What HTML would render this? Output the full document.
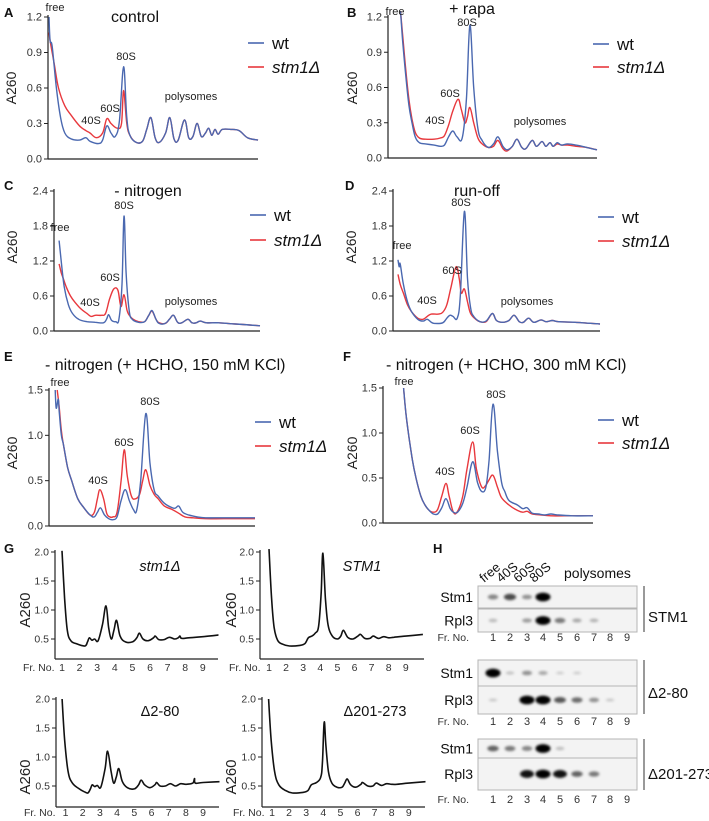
<!DOCTYPE html>
<html><head><meta charset="utf-8">
<style>
html,body{margin:0;padding:0;background:#fff;}
svg{display:block;font-family:"Liberation Sans",Arial,sans-serif;}
.pl{font-size:13px;font-weight:bold;fill:#111}
.tk{font-size:11px;fill:#333}
.gtk{font-size:10.5px;fill:#333}
.ann{font-size:11px;fill:#222}
.ttl{font-size:16px;fill:#111}
.lg{font-size:17px;fill:#111}
</style></head><body>
<svg id="fig" width="709" height="821" viewBox="0 0 709 821" xmlns="http://www.w3.org/2000/svg">
<defs><filter id="blur" x="-50%" y="-50%" width="200%" height="200%"><feGaussianBlur stdDeviation="1.3"/></filter></defs>
<text class="pl" x="4" y="17">A</text>
<text class="pl" x="347" y="17">B</text>
<text class="pl" x="4" y="190">C</text>
<text class="pl" x="345" y="190">D</text>
<text class="pl" x="4" y="361">E</text>
<text class="pl" x="343" y="361">F</text>
<text class="pl" x="4" y="553">G</text>
<text class="pl" x="433" y="553">H</text>
<text class="ttl" x="135" y="22" text-anchor="middle">control</text>
<text class="ttl" x="472" y="14" text-anchor="middle" font-size="17">+ rapa</text>
<text class="ttl" x="148" y="196" text-anchor="middle">- nitrogen</text>
<text class="ttl" x="477" y="196" text-anchor="middle">run-off</text>
<text class="ttl" x="45" y="370" font-size="15">- nitrogen (+ HCHO, 150 mM KCl)</text>
<text class="ttl" x="386" y="370" font-size="15">- nitrogen (+ HCHO, 300 mM KCl)</text>
<g id="plots"></g>
<g id="blots"></g>
</svg>
<script>
const ticksA=[0,0.3,0.6,0.9,1.2];
const ticksC=[0,0.6,1.2,1.8,2.4];
const ticksE=[0,0.5,1.0,1.5];
const ticksG=[0.5,1.0,1.5,2.0];
const frNumbers=[1,2,3,4,5,6,7,8,9];
const aWt=[[0.5,1.2],[1,1.0],[2,0.95],[4,0.6],[6,0.35],[8,0.22],[11,0.17],[15,0.16],[18,0.18],[20,0.15],[24,0.13],[26,0.16],[28,0.28],[30,0.22],[32,0.19],[34,0.32],[36,0.78],[37.5,0.35],[39,0.2],[42,0.14],[45,0.15],[47,0.25],[49,0.35],[51,0.18],[53,0.14],[56,0.22],[58,0.35],[60,0.17],[62,0.16],[65,0.33],[67,0.18],[69,0.19],[71,0.3],[73,0.19],[75,0.22],[76.5,0.26],[78,0.2],[79.5,0.25],[81,0.21],[83,0.25],[87,0.25],[91,0.24],[95,0.18],[100,0.16]];
const aSt=[[0.5,1.07],[1,1.0],[3,0.8],[5,0.6],[8,0.45],[11,0.37],[15,0.28],[18,0.24],[20,0.22],[23,0.18],[26,0.22],[28,0.34],[30,0.3],[33,0.26],[35,0.3],[36,0.58],[37.5,0.3],[39,0.2],[42,0.14],[45,0.15],[47,0.25],[49,0.35],[51,0.18],[53,0.14],[56,0.22],[58,0.35],[60,0.17],[62,0.16],[65,0.33],[67,0.18],[69,0.19],[71,0.3],[73,0.19],[75,0.22],[76.5,0.26],[78,0.2],[79.5,0.25],[81,0.21],[83,0.25],[87,0.25],[91,0.24],[95,0.18],[100,0.16]];
const bWt=[[6,1.25],[7,1.0],[8.5,0.7],[10,0.45],[11.5,0.3],[13,0.18],[15,0.13],[18,0.12],[22,0.11],[25,0.1],[27,0.11],[29,0.18],[31,0.23],[33,0.18],[35.5,0.17],[37.5,0.5],[39.2,1.13],[41,0.6],[43,0.25],[45,0.15],[48,0.09],[50.5,0.12],[52.6,0.18],[55,0.1],[57,0.07],[59.5,0.1],[61.7,0.16],[64,0.09],[66,0.08],[69,0.15],[71,0.1],[73.7,0.14],[75.5,0.1],[77.5,0.13],[79,0.1],[81,0.13],[83,0.11],[86,0.12],[90,0.11],[95,0.09],[100,0.07]];
const bSt=[[6,1.25],[7,1.05],[8.5,0.75],[10,0.5],[11.5,0.33],[13,0.22],[15,0.17],[18,0.16],[22,0.16],[25,0.17],[27,0.19],[29,0.28],[31,0.4],[33.5,0.5],[35,0.42],[36.8,0.3],[38,0.35],[39.2,0.43],[41,0.3],[43,0.17],[45,0.12],[48,0.09],[50.5,0.1],[52.6,0.15],[55,0.08],[57,0.06],[59.5,0.1],[61.7,0.16],[64,0.09],[66,0.08],[69,0.15],[71,0.1],[73.7,0.14],[75.5,0.1],[77.5,0.13],[79,0.1],[81,0.12],[83,0.11],[86,0.11],[90,0.1],[95,0.09],[100,0.07]];
const cWt=[[2.5,1.55],[3.5,1.2],[5,0.75],[7,0.45],[9,0.3],[12,0.2],[16,0.16],[20,0.15],[24,0.14],[25.5,0.2],[26.5,0.28],[28,0.18],[30,0.16],[31.5,0.2],[33,0.8],[34,1.97],[35,1.0],[36.5,0.35],[38,0.2],[41,0.15],[44,0.16],[46,0.27],[47.6,0.35],[49.5,0.2],[51,0.13],[54,0.13],[56,0.2],[58,0.27],[60,0.15],[62,0.14],[65,0.2],[67,0.14],[69,0.14],[71,0.17],[74,0.14],[80,0.14],[88,0.12],[100,0.09]];
const cSt=[[2.5,1.15],[3.5,1.0],[4.5,0.9],[6,0.75],[8,0.6],[10,0.5],[13,0.38],[16,0.3],[18,0.25],[20,0.27],[23,0.27],[25,0.3],[27,0.55],[29,0.72],[31,0.7],[32.5,0.42],[34,0.62],[35.5,0.35],[37,0.25],[38.5,0.2],[41,0.16],[44,0.16],[46,0.27],[47.6,0.34],[49.5,0.2],[51,0.14],[54,0.13],[56,0.2],[58,0.27],[60,0.15],[62,0.14],[65,0.2],[67,0.14],[69,0.14],[71,0.17],[74,0.14],[80,0.14],[88,0.12],[100,0.09]];
const dWt=[[2.4,1.22],[3,1.1],[3.5,1.15],[5,0.8],[7,0.5],[9,0.33],[12,0.2],[14.5,0.17],[16.5,0.2],[18.5,0.15],[20,0.13],[24,0.14],[26,0.22],[27.5,0.27],[29,0.25],[31,0.22],[32.5,0.6],[34.5,2.05],[36,0.9],[37.5,0.4],[39,0.25],[42,0.16],[45,0.17],[48,0.3],[50,0.18],[53,0.15],[56,0.18],[58.5,0.27],[61,0.16],[63,0.15],[65.5,0.22],[68,0.15],[71.5,0.19],[74,0.16],[77,0.18],[80,0.16],[88,0.15],[100,0.12]];
const dSt=[[2.4,0.97],[3.5,0.8],[5,0.65],[7,0.45],[9,0.33],[12,0.22],[14.5,0.2],[16.5,0.25],[18.5,0.29],[22,0.29],[24,0.32],[26,0.45],[28,0.75],[30.5,1.1],[32,0.9],[33,0.65],[34.5,0.72],[36,0.5],[37.5,0.3],[40,0.2],[42,0.16],[45,0.16],[48,0.3],[50,0.18],[53,0.15],[56,0.18],[58.5,0.27],[61,0.16],[63,0.15],[65.5,0.22],[68,0.15],[71.5,0.19],[74,0.16],[77,0.18],[80,0.16],[88,0.15],[100,0.12]];
const eWt=[[3,1.5],[3.5,1.3],[4.5,1.4],[5,1.25],[6,1.0],[7,0.9],[9,0.65],[11,0.5],[14,0.3],[17,0.2],[20,0.12],[22,0.1],[23.5,0.15],[25,0.2],[27,0.12],[29,0.08],[31,0.07],[33,0.1],[35,0.28],[37,0.4],[39,0.28],[41,0.18],[42.5,0.17],[44.5,0.5],[47,1.24],[49,0.7],[51,0.4],[53,0.33],[56,0.25],[60,0.2],[61.5,0.2],[63,0.22],[65,0.15],[68,0.12],[72,0.1],[76,0.09],[85,0.09],[100,0.09]];
const eSt=[[4,1.5],[5,1.3],[6,1.05],[7,0.9],[9,0.65],[11,0.5],[14,0.3],[17,0.2],[20,0.12],[22,0.15],[23.5,0.3],[24.7,0.4],[26.5,0.3],[28,0.14],[29.5,0.1],[31,0.1],[33,0.15],[35,0.5],[36.5,0.84],[38,0.55],[40,0.33],[42,0.3],[44,0.35],[45.5,0.5],[47,0.62],[49,0.45],[51,0.35],[53,0.3],[56,0.22],[60,0.18],[63,0.14],[66,0.1],[70,0.09],[76,0.08],[85,0.08],[100,0.08]];
const fWt=[[9.8,1.5],[11,1.2],[12.4,0.95],[14,0.7],[15.7,0.5],[18,0.3],[20,0.2],[22,0.14],[24,0.1],[26,0.1],[28,0.17],[30,0.27],[32,0.16],[33.5,0.12],[35.5,0.12],[38,0.22],[40,0.4],[42.7,0.68],[45,0.45],[47,0.35],[49,0.4],[50.5,0.7],[52.4,1.32],[54.5,0.8],[56.5,0.45],[58,0.35],[60,0.25],[64,0.2],[66.5,0.16],[68.6,0.17],[71,0.11],[74,0.1],[77,0.09],[80,0.1],[83,0.09],[90,0.08],[100,0.08]];
const fSt=[[9.8,1.5],[11,1.2],[12.4,0.95],[14,0.7],[15.7,0.5],[18,0.3],[20,0.2],[22,0.14],[24,0.12],[26,0.15],[28,0.3],[30,0.44],[31.5,0.3],[33.5,0.12],[35.5,0.13],[38,0.3],[40,0.6],[42.7,0.9],[44.5,0.6],[47,0.4],[49,0.42],[50.5,0.48],[52.4,0.53],[54.5,0.4],[56.5,0.28],[60,0.2],[64,0.14],[66.5,0.12],[68.6,0.13],[71,0.1],[75,0.09],[80,0.08],[90,0.08],[100,0.08]];
const gStm1Del=[[1,2.02],[1.15,1.2],[1.3,0.65],[1.5,0.47],[1.8,0.42],[2.3,0.38],[2.45,0.45],[2.55,0.52],[2.7,0.48],[2.85,0.5],[3.05,0.47],[3.3,0.75],[3.5,1.07],[3.65,0.7],[3.8,0.5],[3.95,0.65],[4.1,0.82],[4.3,0.55],[4.6,0.45],[5.0,0.45],[5.25,0.52],[5.4,0.6],[5.6,0.5],[5.9,0.47],[6.2,0.52],[6.3,0.55],[6.5,0.49],[6.8,0.49],[7.1,0.53],[7.4,0.5],[7.6,0.52],[7.7,0.55],[7.8,0.51],[8.2,0.52],[9,0.54],[10.2,0.58]];
const gStm1=[[1,2.05],[1.15,1.2],[1.3,0.7],[1.5,0.48],[1.8,0.41],[2.2,0.38],[2.8,0.39],[3.1,0.42],[3.3,0.52],[3.5,0.55],[3.7,0.6],[3.9,0.72],[4.05,1.3],[4.15,1.98],[4.3,1.2],[4.45,0.75],[4.7,0.55],[5.0,0.5],[5.2,0.55],[5.35,0.65],[5.6,0.53],[5.9,0.5],[6.2,0.55],[6.35,0.58],[6.6,0.51],[6.9,0.51],[7.1,0.55],[7.4,0.51],[7.7,0.54],[8,0.52],[8.3,0.53],[9,0.55],[10,0.58]];
const gDel280=[[0.8,2.0],[0.95,1.3],[1.15,0.75],[1.4,0.55],[1.8,0.45],[2.1,0.4],[2.3,0.38],[2.45,0.45],[2.55,0.52],[2.7,0.49],[2.85,0.51],[3.05,0.48],[3.3,0.8],[3.45,1.1],[3.65,0.75],[3.8,0.55],[3.95,0.65],[4.1,0.8],[4.3,0.58],[4.6,0.47],[5.0,0.45],[5.25,0.52],[5.4,0.6],[5.6,0.52],[5.9,0.47],[6.2,0.52],[6.3,0.56],[6.5,0.5],[6.8,0.5],[7.1,0.54],[7.4,0.5],[7.7,0.54],[8.0,0.53],[8.4,0.55],[8.5,0.63],[8.55,0.55],[9,0.56],[10.3,0.58]];
const gDel201=[[0.8,2.0],[0.95,1.3],[1.15,0.75],[1.4,0.52],[1.8,0.42],[2.2,0.38],[2.8,0.39],[3.1,0.42],[3.3,0.52],[3.6,0.56],[3.85,0.65],[3.95,0.9],[4.05,1.6],[4.15,1.2],[4.3,0.75],[4.5,0.55],[4.8,0.48],[5.1,0.48],[5.25,0.55],[5.4,0.62],[5.6,0.52],[5.9,0.48],[6.2,0.53],[6.3,0.56],[6.6,0.5],[6.9,0.5],[7.1,0.55],[7.4,0.51],[7.7,0.54],[8,0.53],[8.3,0.53],[9,0.55],[10.2,0.58]];
const blotStm1_STM1=[0.35,0.6,0.3,1.0,0,0,0,0,0];
const blotRpl3_STM1=[0.12,0,0.25,1.0,0.4,0.2,0.15,0,0];
const blotStm1_D280=[1.0,0.08,0.3,0.2,0.03,0.03,0,0,0];
const blotRpl3_D280=[0.05,0,1.0,1.0,0.55,0.45,0.3,0.05,0];
const blotStm1_D201=[0.5,0.4,0.35,1.0,0.1,0,0,0,0];
const blotRpl3_D201=[0,0,0.85,1.0,0.85,0.5,0.4,0,0];

const NS="http://www.w3.org/2000/svg";
const plots=document.getElementById('plots');
function mk(tag,parent,attrs){const e=document.createElementNS(NS,tag);for(const k in attrs)e.setAttribute(k,attrs[k]);parent.appendChild(e);return e;}
function lin(d0,d1,r0,r1){return v=>r0+(v-d0)/(d1-d0)*(r1-r0);}
function smooth(pts){
  let d='M'+pts[0][0].toFixed(1)+','+pts[0][1].toFixed(1);
  for(let i=0;i<pts.length-1;i++){
    const p0=pts[Math.max(0,i-1)],p1=pts[i],p2=pts[i+1],p3=pts[Math.min(pts.length-1,i+2)];
    const t=0.18;
    const c1=[p1[0]+(p2[0]-p0[0])*t,p1[1]+(p2[1]-p0[1])*t];
    const c2=[p2[0]-(p3[0]-p1[0])*t,p2[1]-(p3[1]-p1[1])*t];
    d+='C'+c1.map(v=>v.toFixed(1)).join(',')+' '+c2.map(v=>v.toFixed(1)).join(',')+' '+p2[0].toFixed(1)+','+p2[1].toFixed(1);
  }
  return d;
}
let clipId=0;
function panel(cfg){
  const g=mk('g',plots,{});
  
  
  const sx=lin(cfg.d0,cfg.d1,cfg.x0,cfg.x1);
  const sy=lin(cfg.vmin,cfg.vmax,cfg.yb,cfg.yt);
  const ya=mk('line',g,{x1:cfg.x0,y1:cfg.axisTop,x2:cfg.x0,y2:cfg.axisY,stroke:'#222','stroke-width':1.2});
  
  
  const xa=mk('line',g,{x1:cfg.x0,y1:cfg.axisY,x2:cfg.xEnd,y2:cfg.axisY,stroke:'#222','stroke-width':1.2});
  
  
  cfg.ticks.forEach(t=>{
    const y=sy(t);
    const tl=mk('line',g,{x1:cfg.x0-4,y1:y,x2:cfg.x0,y2:y,stroke:'#222','stroke-width':1});
    
    
    const tx=mk('text',g,{x:cfg.x0-6,y:y+3.5,'text-anchor':'end',class:cfg.tickClass});
    tx.textContent=t.toFixed(1);
    
    
  });
  const yl=mk('text',g,{x:0,y:0,'text-anchor':'middle','font-size':cfg.ylSize,fill:'#222',transform:`translate(${cfg.ylX},${cfg.ylY}) rotate(-90)`});
  yl.textContent='A260';
  
  
  const cid='clip'+(clipId++);
  const cp=mk('clipPath',g,{id:cid});
  mk('rect',cp,{x:cfg.x0+0.5,y:cfg.clipTop,width:cfg.xEnd-cfg.x0,height:cfg.axisY-cfg.clipTop});
  cfg.series.forEach(s=>{
    const pts=s.data.map(p=>[sx(p[0]),sy(p[1])]);
    const pth=mk('path',g,{d:smooth(pts),fill:'none',stroke:s.color,'stroke-width':s.w||1.4,'clip-path':`url(#${cid})`,'stroke-linejoin':'round'});
    
    
  });
  (cfg.ann||[]).forEach(a=>{
    const t=mk('text',g,{x:a[1],y:a[2],'text-anchor':'middle',class:'ann','font-size':a[3]||11});
    t.textContent=a[0];
    
    
  });
  if(cfg.legend){
    const L=cfg.legend;
    [['wt','#4a68b0',L.y1,false],['stm1Δ','#e8383d',L.y2,true]].forEach(e=>{
      const ln=mk('line',g,{x1:L.x,y1:e[2],x2:L.x+16,y2:e[2],stroke:e[1],'stroke-width':1.6});
      
      
      const tx=mk('text',g,{x:L.x+24,y:e[2]+6,class:'lg'});
      if(e[3]){tx.setAttribute('font-style','italic');}
      tx.textContent=e[0];
      
      
    });
  }
  if(cfg.fr){
    const F=cfg.fr;
    const ft=mk('text',g,{x:F.labelX,y:F.y,class:'gtk','font-size':11});
    ft.textContent='Fr. No.';
    
    
    frNumbers.forEach(n=>{
      const t=mk('text',g,{x:sx(n),y:F.y,'text-anchor':'middle',class:'gtk','font-size':11.5});
      t.textContent=n;
      
      
    });
  }
  if(cfg.title){
    const t=mk('text',g,{x:cfg.title[1],y:cfg.title[2],'text-anchor':'middle','font-size':14.5,fill:'#111','font-style':cfg.title[3]?'italic':'normal'});
    t.textContent=cfg.title[0];
    
    
  }
}
const BLUE='#4a68b0',RED='#e8383d';
function abPanel(name,x0,x1,yt,yb,vmax,ticks,wt,st,ann,legend,ylX,ylY){
  panel({name,d0:0,d1:100,x0,x1,xEnd:x1,vmin:0,vmax,yb,yt,axisY:yb,axisTop:yt-2,clipTop:yt-14,ticks,tickClass:'tk',ylSize:14,ylX,ylY,
    series:[{data:st,color:RED,name:'stm1-line'},{data:wt,color:BLUE,name:'wt-line'}],ann,legend});
}
abPanel('panel-a-control',48,258,17,159,1.2,ticksA,aWt,aSt,[['free',55,11,10],['40S',91,124],['60S',110,112],['80S',126,60],['polysomes',191,100]],{x:248,y1:43,y2:67},16,88);
abPanel('panel-b-rapa',388,597,17,158,1.2,ticksA,bWt,bSt,[['free',395,15,10],['80S',467,26],['60S',450,97],['40S',435,124],['polysomes',540,125]],{x:593,y1:44,y2:67},357,88);
abPanel('panel-c-nitrogen',54,260,191,331,2.4,ticksC,cWt,cSt,[['free',60,231,10],['80S',124,209],['60S',110,281],['40S',90,306],['polysomes',191,305]],{x:250,y1:215,y2:240},17,247);
abPanel('panel-d-runoff',393,600,191,331,2.4,ticksC,dWt,dSt,[['free',402,249,10],['60S',452,274],['80S',461,206],['40S',427,304],['polysomes',527,305]],{x:598,y1:217,y2:241},356,247);
abPanel('panel-e-hcho150',49,255,390,526,1.5,ticksE,eWt,eSt,[['free',60,386,10],['80S',150,405],['60S',124,446],['40S',98,484]],{x:255,y1:422,y2:446},17,453);
abPanel('panel-f-hcho300',383,593,388,523,1.5,ticksE,fWt,fSt,[['free',404,385,10],['80S',496,398],['60S',470,434],['40S',445,475]],{x:598,y1:420,y2:443},357,453);
function gP(name,axX,xEnd,num1,sp,yt,yb,axisY,data,title,frY,frLabelX,ylX,ylY){
  const d0=1-(num1-axX)/sp;
  panel({name,d0:d0,d1:d0+(xEnd-axX)/sp,x0:axX,x1:xEnd,xEnd,vmin:0.5,vmax:2.0,yb,yt,axisY,axisTop:yt-2,clipTop:yt-8,ticks:ticksG,tickClass:'gtk',ylSize:15,ylX,ylY,
    series:[{data,color:'#111',name:'profile-line',w:1.6}],title,fr:{y:frY,labelX:frLabelX}});
}
gP('panel-g-stm1-deletion',55,218,62,17.6,552,639,659,gStm1Del,['stm1Δ',160,571,true],671,23,30,610);
gP('panel-g-stm1',260,424,269,17.1,552,639,659,gStm1,['STM1',362,571,true],671,229,236,610);
gP('panel-g-delta-2-80',56,219,65.5,17.2,699,786,807,gDel280,['Δ2-80',160,716,false],816,24,30,777);
gP('panel-g-delta-201-273',262,425,272,17.1,699,786,807,gDel201,['Δ201-273',375,716,false],816,233,236,777);

const blots=document.getElementById('blots');
const laneX=[493,510,527,543,560,577,594,610,627];
const groups=[
 {label:'STM1',rows:[[586,608,blotStm1_STM1,'Stm1'],[609,632,blotRpl3_STM1,'Rpl3']],fr:641,bar:[586,632],ly:622},
 {label:'Δ2-80',rows:[[660,686,blotStm1_D280,'Stm1'],[686,714,blotRpl3_D280,'Rpl3']],fr:725,bar:[660,714],ly:698},
 {label:'Δ201-273',rows:[[739,758,blotStm1_D201,'Stm1'],[758,790,blotRpl3_D201,'Rpl3']],fr:803,bar:[739,790],ly:779}
];
groups.forEach(gr=>{
  const g=mk('g',blots,{});
  
  
  gr.rows.forEach(r=>{
    const [y0,y1,vals,name]=r;
    const box=mk('rect',g,{x:478,y:y0,width:159,height:y1-y0,fill:'#f3f3f3',stroke:'#b5b5b5','stroke-width':1});
    
    
    const cy=(y0+y1)/2;
    vals.forEach((v,i)=>{
      if(v<=0)return;
      const b=mk('ellipse',g,{cx:laneX[i],cy:cy,rx:4+3.5*v,ry:1.4+3*v,fill:'#000','fill-opacity':Math.min(1,0.12+0.95*v),filter:'url(#blur)'});
      
      
    });
    const lt=mk('text',g,{x:473,y:cy+5,'text-anchor':'end','font-size':14,fill:'#111'});
    lt.textContent=name;
    
    
  });
  const fn=mk('text',g,{x:469,y:gr.fr,'text-anchor':'end','font-size':10.5,fill:'#333'});
  fn.textContent='Fr. No.';
  
  
  frNumbers.forEach((n,i)=>{
    const t=mk('text',g,{x:laneX[i],y:gr.fr,'text-anchor':'middle','font-size':11,fill:'#333'});
    t.textContent=n;
    
    
  });
  const bar=mk('line',g,{x1:644,y1:gr.bar[0],x2:644,y2:gr.bar[1],stroke:'#555','stroke-width':1.2});
  
  
  const gl=mk('text',g,{x:648,y:gr.ly,'font-size':15,fill:'#111'});
  gl.textContent=gr.label;
  
  
});
['free','40S','60S','80S'].forEach((s,i)=>{
  const t=mk('text',blots,{x:0,y:0,'font-size':13,fill:'#111',transform:`translate(${laneX[i]-9},${583}) rotate(-40)`});
  t.textContent=s;
  
  
});
const poly=mk('text',blots,{x:564,y:578,'font-size':14,fill:'#111'});
poly.textContent='polysomes';


</script>
</body></html>
